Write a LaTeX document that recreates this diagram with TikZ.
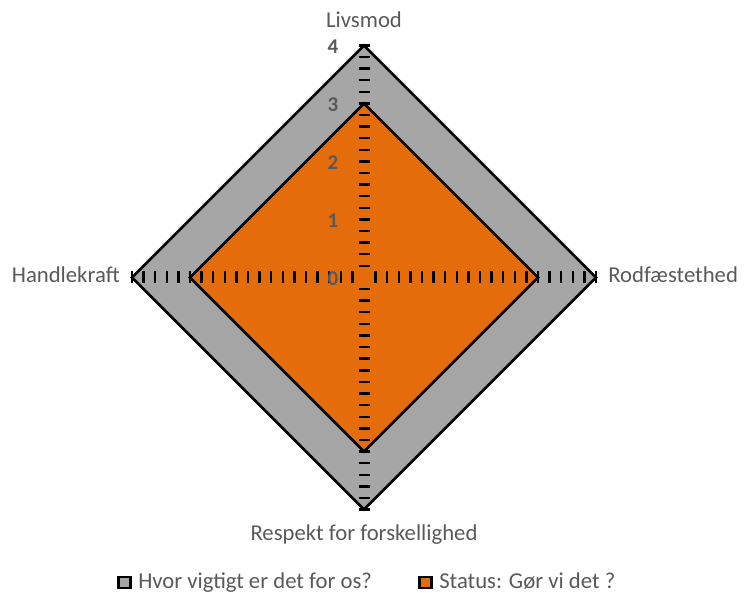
\documentclass[tikz,border=0pt]{standalone}
\usepackage{fontspec}
\setmainfont{Carlito}
\usetikzlibrary{calc}
\definecolor{chartgray}{RGB}{166,166,166}
\definecolor{chartorange}{RGB}{228,108,10}
\definecolor{labelgray}{RGB}{89,89,89}

\begin{document}
\begin{tikzpicture}[x=1pt, y=-1pt, line width=2.5 pt,
	lbl/.style={text=labelgray, font=\fontsize{22.7}{26}\selectfont, inner sep=0pt},
	num/.style={text=labelgray, font=\fontsize{21}{24}\selectfont\bfseries, inner sep=0pt},
	tickmark/.style={line width=2.4pt, line cap=butt},
	legendbox/.style={draw=black, line width=2.5pt}]
\useasboundingbox (0,0) rectangle (744,593);
\coordinate(c) at (364,277.5);
\foreach \v in {3,4}{
	\coordinate(t\v) at ($(c)+(0,-58*\v)$);
	\coordinate(r\v) at ($(c)+(58*\v,0)$);
	\coordinate(b\v) at ($(c)+(0,58*\v)$);
	\coordinate(l\v) at ($(c)+(-58*\v,0)$);
}

\draw [fill=chartgray] (t4)--(r4)--(b4)--(l4)--cycle;
\draw [fill=chartorange] (t3)--(r3)--(b3)--(l3)--cycle;

\foreach \k in {1,...,20}{
	\draw [tickmark] ($(c)+(-5.5,-11.6*\k)$)--++(11,0);
	\draw [tickmark] ($(c)+(-5.5,11.6*\k)$)--++(11,0);
	\draw [tickmark] ($(c)+(11.6*\k,-6)$)--++(0,12);
	\draw [tickmark] ($(c)+(-11.6*\k,-6)$)--++(0,12);
}

\foreach \v in {0,...,4}{
	\node[num] (n\v) at ($(c)+(-31,-58*\v+1)$) {\v};
}

\node[lbl, anchor=base] (livsmod) at (364,28) {Livsmod};
\node[lbl, anchor=base west] (rodfaeste) at (607,283) {Rodfæstethed};
\node[lbl, anchor=base] (respekt) at (364,540) {Respekt for forskellighed};
\node[lbl, anchor=base east] (handlekraft) at (121,283) {Handlekraft};

\draw [legendbox, fill=chartgray] (118.5,577) rectangle (130.5,588);
\node[lbl, anchor=base west] (vigtigt) at (137,588) {Hvor vigtigt er det for os?};
\draw [legendbox, fill=chartorange] (419.5,577) rectangle (431.5,588);
\node[lbl, anchor=base west] (status) at (438,588) {Status: Gør vi det ?};
\end{tikzpicture}
\end{document}
